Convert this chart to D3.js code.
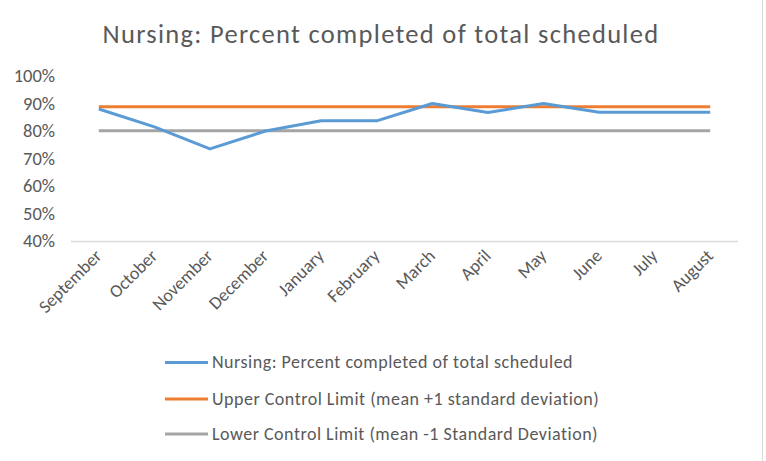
<!DOCTYPE html>
<html>
<head>
<meta charset="utf-8">
<script src="https://cdn.jsdelivr.net/npm/d3@7"></script>
<style>
  body { margin: 0; background: #fff; }
  text { font-family: Carlito, "Open Sans", "Liberation Sans", sans-serif; fill: #595959; }
</style>
</head>
<body>
<div id="chart"></div>
<script>
// data
var months = ["September", "October", "November", "December", "January", "February",
              "March", "April", "May", "June", "July", "August"];
var nursing = [0.88, 0.815, 0.735, 0.80, 0.837, 0.837, 0.90, 0.867, 0.90, 0.868, 0.868, 0.868];
var upperLimit = 0.888;
var lowerLimit = 0.801;
var yTicks = [0.4, 0.5, 0.6, 0.7, 0.8, 0.9, 1.0];
var seriesNames = ["Nursing: Percent completed of total scheduled",
                   "Upper Control Limit (mean +1 standard deviation)",
                   "Lower Control Limit (mean -1 Standard Deviation)"];
var colors = ["#5b9bd5", "#ed7d31", "#a5a5a5"];

var width = 766, height = 461;
var margin = {top: 76, left: 71, right: 28, bottom: 220};

var svg = d3.select("#chart").append("svg")
    .attr("width", width)
    .attr("height", height);

// outer chart border on the right
svg.append("line")
    .attr("x1", 762.5).attr("x2", 762.5)
    .attr("y1", 0).attr("y2", height)
    .style("stroke", "#d9d9d9");

svg.append("text")
    .attr("x", 381)
    .attr("y", 43)
    .attr("text-anchor", "middle")
    .style("font-size", "26.5px")
    .style("letter-spacing", "1.3px")
    .text("Nursing: Percent completed of total scheduled");

var x = d3.scaleBand()
    .domain(months)
    .range([margin.left, width - margin.right]);

var y = d3.scaleLinear()
    .domain([0.4, 1.0])
    .range([height - margin.bottom, margin.top]);

// y labels (no gridlines)
svg.selectAll("text.ylab").data(yTicks).enter().append("text")
    .attr("class", "ylab")
    .attr("x", 55)
    .attr("y", function(d) { return y(d); })
    .attr("dy", "0.35em")
    .attr("text-anchor", "end")
    .style("font-size", "18.5px")
    .text(d3.format(".0%"));

// x axis line
svg.append("line")
    .attr("x1", x.range()[0]).attr("x2", x.range()[1])
    .attr("y1", y(0.4) + 0.5).attr("y2", y(0.4) + 0.5)
    .style("stroke", "#d9d9d9")
    .style("stroke-width", 1.5);

// x labels rotated
svg.selectAll("text.xlab").data(months).enter().append("text")
    .attr("class", "xlab")
    .attr("text-anchor", "end")
    .attr("transform", function(d) {
      return "translate(" + (x(d) + x.bandwidth() / 2 + 4) + "," + (y(0.4) + 16) + ") rotate(-45)";
    })
    .style("font-size", "18px")
    .text(function(d) { return d; });

var cx = function(d, i) { return x(months[i]) + x.bandwidth() / 2; };

var line = d3.line()
    .x(cx)
    .y(function(d) { return y(d); });

var series = [
  nursing,
  months.map(function() { return upperLimit; }),
  months.map(function() { return lowerLimit; })
];

[2, 1, 0].forEach(function(k) {
  svg.append("path")
      .datum(series[k])
      .attr("d", line)
      .style("fill", "none")
      .style("stroke", colors[k])
      .style("stroke-width", 3)
      .style("stroke-linejoin", "round");
});

// legend
var legY = [362.5, 399, 434];
var leg = svg.selectAll("g.leg").data(seriesNames).enter().append("g")
    .attr("class", "leg")
    .attr("transform", function(d, i) { return "translate(165," + legY[i] + ")"; });

leg.append("line")
    .attr("x1", 0).attr("x2", 43)
    .style("stroke", function(d, i) { return colors[i]; })
    .style("stroke-width", 3);

leg.append("text")
    .attr("x", 47)
    .attr("dy", "0.33em")
    .style("font-size", "18px")
    .style("letter-spacing", "0.5px")
    .text(function(d) { return d; });
</script>
</body>
</html>
